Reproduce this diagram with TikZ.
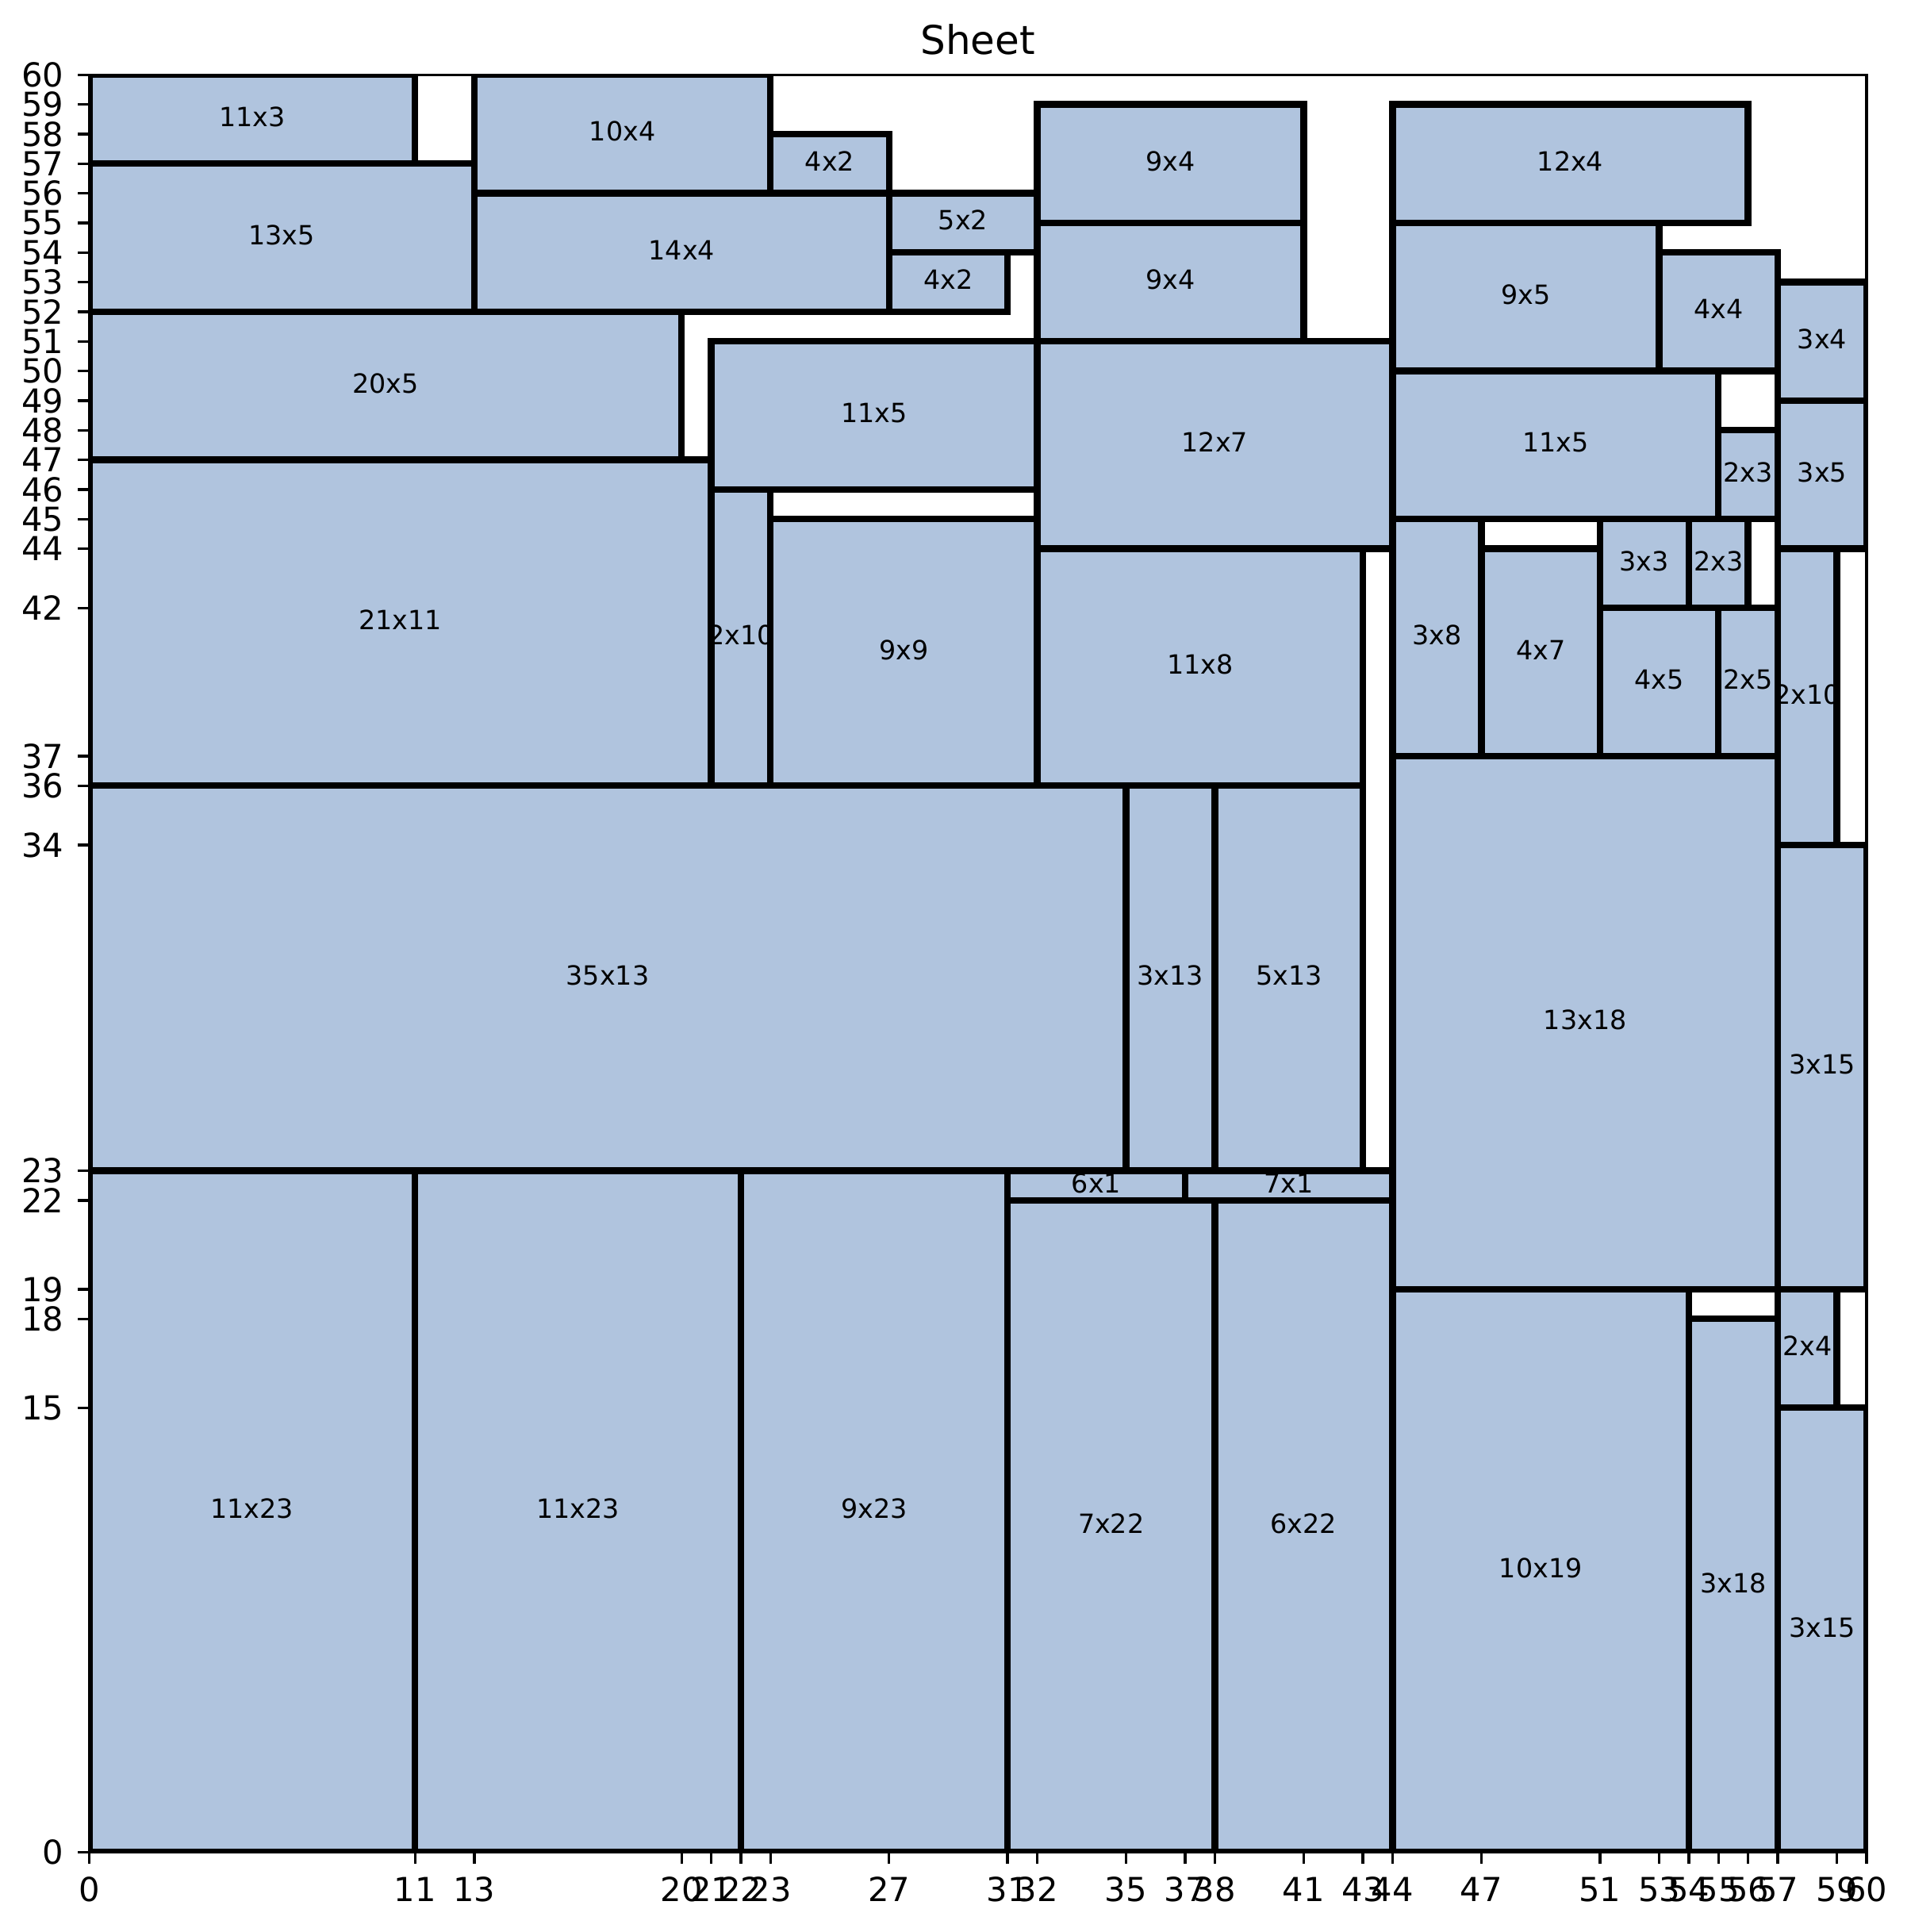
\documentclass[tikz,border=0pt]{standalone}
\usepackage{fontspec}
\setmainfont{DejaVu Sans}
\pgfdeclarelayer{spines}
\pgfdeclarelayer{fg}
\pgfsetlayers{main,spines,fg}
\definecolor{piecefill}{HTML}{B0C4DE}
\tikzset{
  piece/.style={fill=piecefill, draw=black, line width=2pt},
  piecelabel/.style={font=\fontsize{8}{9.6}\selectfont, inner sep=0pt, text height=5.83pt, text depth=1.5pt, anchor=center},
  spine/.style={draw=black, line width=0.8pt},
  tickmark/.style={draw=black, line width=0.8pt},
  xtick/.style={font=\fontsize{10}{12}\selectfont, inner sep=0pt, anchor=north, yshift=-7.37pt},
  ytick/.style={font=\fontsize{10}{12}\selectfont, inner sep=0pt, anchor=east, xshift=-7.5pt},
  titlelabel/.style={font=\fontsize{12}{14.4}\selectfont, inner sep=0pt, anchor=base, yshift=6.24pt}
}
\newcommand\sheetpiece[6]{%
  \filldraw[piece] (#2,#3) rectangle ++(#4,#5);
  \begin{pgfonlayer}{fg}\node[piecelabel] (#1) at ({#2+#4/2},{#3+#5/2}) {#6};\end{pgfonlayer}}
\begin{document}
\begin{tikzpicture}[x=8.9616pt,y=8.96pt]
\useasboundingbox (-27.0pt,-24.17pt) rectangle (551.16pt,560.23pt);
\begin{scope}
\clip (0,0) rectangle (60,60);
\sheetpiece{p1}{0}{57}{11}{3}{11x3}
\sheetpiece{p2}{13}{56}{10}{4}{10x4}
\sheetpiece{p3}{23}{56}{4}{2}{4x2}
\sheetpiece{p4}{0}{52}{13}{5}{13x5}
\sheetpiece{p5}{13}{52}{14}{4}{14x4}
\sheetpiece{p6}{27}{54}{5}{2}{5x2}
\sheetpiece{p7}{27}{52}{4}{2}{4x2}
\sheetpiece{p8}{32}{55}{9}{4}{9x4}
\sheetpiece{p9}{32}{51}{9}{4}{9x4}
\sheetpiece{p10}{44}{55}{12}{4}{12x4}
\sheetpiece{p11}{0}{47}{20}{5}{20x5}
\sheetpiece{p12}{21}{46}{11}{5}{11x5}
\sheetpiece{p13}{32}{44}{12}{7}{12x7}
\sheetpiece{p14}{44}{50}{9}{5}{9x5}
\sheetpiece{p15}{53}{50}{4}{4}{4x4}
\sheetpiece{p16}{57}{49}{3}{4}{3x4}
\sheetpiece{p17}{44}{45}{11}{5}{11x5}
\sheetpiece{p18}{55}{45}{2}{3}{2x3}
\sheetpiece{p19}{57}{44}{3}{5}{3x5}
\sheetpiece{p20}{0}{36}{21}{11}{21x11}
\sheetpiece{p21}{21}{36}{2}{10}{2x10}
\sheetpiece{p22}{23}{36}{9}{9}{9x9}
\sheetpiece{p23}{32}{36}{11}{8}{11x8}
\sheetpiece{p24}{44}{37}{3}{8}{3x8}
\sheetpiece{p25}{47}{37}{4}{7}{4x7}
\sheetpiece{p26}{51}{42}{3}{3}{3x3}
\sheetpiece{p27}{54}{42}{2}{3}{2x3}
\sheetpiece{p28}{51}{37}{4}{5}{4x5}
\sheetpiece{p29}{55}{37}{2}{5}{2x5}
\sheetpiece{p30}{57}{34}{2}{10}{2x10}
\sheetpiece{p31}{0}{23}{35}{13}{35x13}
\sheetpiece{p32}{35}{23}{3}{13}{3x13}
\sheetpiece{p33}{38}{23}{5}{13}{5x13}
\sheetpiece{p34}{44}{19}{13}{18}{13x18}
\sheetpiece{p35}{57}{19}{3}{15}{3x15}
\sheetpiece{p36}{31}{22}{6}{1}{6x1}
\sheetpiece{p37}{37}{22}{7}{1}{7x1}
\sheetpiece{p38}{0}{0}{11}{23}{11x23}
\sheetpiece{p39}{11}{0}{11}{23}{11x23}
\sheetpiece{p40}{22}{0}{9}{23}{9x23}
\sheetpiece{p41}{31}{0}{7}{22}{7x22}
\sheetpiece{p42}{38}{0}{6}{22}{6x22}
\sheetpiece{p43}{44}{0}{10}{19}{10x19}
\sheetpiece{p44}{54}{0}{3}{18}{3x18}
\sheetpiece{p45}{57}{15}{2}{4}{2x4}
\sheetpiece{p46}{57}{0}{3}{15}{3x15}
\end{scope}
\begin{pgfonlayer}{spines}
\draw[spine] (0,0) rectangle (60,60);
\foreach \v in {0,11,13,20,21,22,23,27,31,32,35,37,38,41,43,44,47,51,53,54,55,56,57,59,60}{
  \draw[tickmark] (\v,0) -- ++(0,-3.5pt);
  \node[xtick] (xt\v) at (\v,0) {\v};
}
\foreach \v in {0,15,18,19,22,23,34,36,37,42,44,45,46,47,48,49,50,51,52,53,54,55,56,57,58,59,60}{
  \draw[tickmark] (0,\v) -- ++(-3.5pt,0);
  \node[ytick] (yt\v) at (0,\v) {\v};
}
\node[titlelabel] (title) at (30,60) {Sheet};
\end{pgfonlayer}
\end{tikzpicture}
\end{document}
